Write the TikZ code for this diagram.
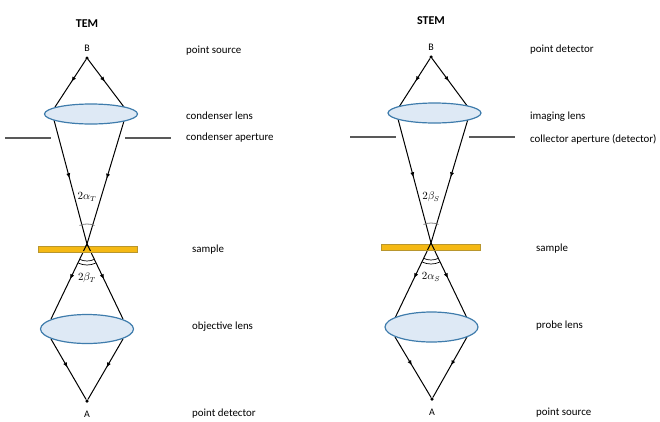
\documentclass[tikz,border=0pt]{standalone}
\usepackage{amsmath, amssymb}
\usepackage{fontspec}
\setmainfont{Carlito}
\usepackage{tikz}
\usetikzlibrary{arrows.meta, decorations.markings, shapes.geometric}

\definecolor{lensfill}{HTML}{DEE9F5}
\definecolor{lensline}{HTML}{3F7CAC}
\definecolor{samplefill}{HTML}{F5B914}
\definecolor{sampleline}{HTML}{B8962E}
\definecolor{stopline}{HTML}{595959}

\begin{document}
\begin{tikzpicture}[
        x=1pt, y=-1pt,
        lens/.style={ellipse, draw=lensline, fill=lensfill, line width=1.2pt, inner sep=0pt, outer sep=0pt, minimum width=93pt},
        sample/.style={rectangle, draw=sampleline, fill=samplefill, line width=0.6pt, inner sep=0pt, outer sep=0pt, minimum width=99pt, minimum height=6pt},
        spot/.style={circle, fill=black, inner sep=0pt, outer sep=0pt, minimum size=3.5pt},
        txt/.style={anchor=west, yshift=-1.2pt, inner sep=0pt, font=\fontsize{10.9}{12}\selectfont, text height=1.5ex, text depth=.25ex},
        letter/.style={inner sep=0pt, font=\fontsize{10}{12}\selectfont},
        heading/.style={inner sep=0pt, font=\fontsize{12}{14}\selectfont\bfseries},
        ang/.style={inner sep=0pt, font=\fontsize{10.5}{12}\selectfont},
        ray/.style={line width=1pt, postaction={decorate}, decoration={markings, mark=at position 0.47 with {\arrow{Latex[length=5pt, width=4.2pt]}}}},
        stop/.style={stopline, line width=1.6pt},
        arcin/.style={line width=0.7pt},
        arcgray/.style={gray, line width=0.8pt}
    ]
        \useasboundingbox (0,0) rectangle (660,421);

        % TEM column
        \node[heading] (TEMtitle) at (87,24) {TEM};
        \node[spot] (TEMB) at (87,58) {};
        \coordinate (TEMcross) at (87,244);
        \node[spot] (TEMA) at (87,401) {};
        \node[letter] (TEMBlabel) at (87,48) {B};
        \node[letter] (TEMAlabel) at (87,414) {A};

        \coordinate (TEMul) at (55,107);
        \coordinate (TEMur) at (124,107);
        \coordinate (TEMml) at (54,120);
        \coordinate (TEMmr) at (124,121);
        \coordinate (TEMol) at (51,319);
        \coordinate (TEMor) at (123,319);
        \coordinate (TEMbl) at (51,339);
        \coordinate (TEMbr) at (123,339);
        \coordinate (TEMsl) at (83.5,251);
        \coordinate (TEMsr) at (90.5,251);
        \draw[ray] (TEMB) -- (TEMul);
        \draw[ray] (TEMB) -- (TEMur);
        \draw[ray] (TEMml) -- (TEMcross);
        \draw[ray] (TEMmr) -- (TEMcross);
        \draw[ray] (TEMcross) -- (TEMol);
        \draw[ray] (TEMcross) -- (TEMor);
        \draw[ray] (TEMbl) -- (TEMA);
        \draw[ray] (TEMbr) -- (TEMA);

        \node[lens, minimum height=20pt] (condlens) at (91,114) {};
        \node[lens, minimum height=29pt] (objlens) at (87,329) {};
        \node[sample] (TEMsample) at (87.5,249) {};
        \draw[line width=1pt] (TEMcross) -- (TEMsl);
        \draw[line width=1pt] (TEMcross) -- (TEMsr);
        \draw[stop] (5,138) -- (51,138);
        \draw[stop] (125,138) -- (171,138);

        \draw[arcgray] ([shift={(-112:20)}]TEMcross) arc (-112:-68:20);
        \draw[arcin] ([shift={(64:17)}]TEMcross) arc (64:116:17);
        \draw[arcin] ([shift={(66:21)}]TEMcross) arc (66:114:21);
        \node[ang] (TEMalpha) at (87,197) {$2\alpha_T$};
        \node[ang] (TEMbeta) at (87,278) {$2\beta_T$};

        \node[txt] (t1) at (186,49) {point source};
        \node[txt] (t2) at (186,115) {condenser lens};
        \node[txt] (t3) at (186,136) {condenser aperture};
        \node[txt] (t4) at (192,248) {sample};
        \node[txt] (t5) at (192,325) {objective lens};
        \node[txt] (t6) at (192,412) {point detector};

        % STEM column
        \node[heading] (STEMtitle) at (431,21) {STEM};
        \node[spot] (STEMB) at (431,57) {};
        \coordinate (STEMcross) at (431,243);
        \node[spot] (STEMA) at (432,399) {};
        \node[letter] (STEMBlabel) at (431,47) {B};
        \node[letter] (STEMAlabel) at (432,412) {A};

        \coordinate (STEMul) at (399,107);
        \coordinate (STEMur) at (468,107);
        \coordinate (STEMml) at (398,119);
        \coordinate (STEMmr) at (468,119);
        \coordinate (STEMol) at (395,318);
        \coordinate (STEMor) at (467,318);
        \coordinate (STEMbl) at (395,337);
        \coordinate (STEMbr) at (467,337);
        \coordinate (STEMsl) at (427.5,250);
        \coordinate (STEMsr) at (434.5,250);
        \draw[ray] (STEMB) -- (STEMul);
        \draw[ray] (STEMB) -- (STEMur);
        \draw[ray] (STEMml) -- (STEMcross);
        \draw[ray] (STEMmr) -- (STEMcross);
        \draw[ray] (STEMcross) -- (STEMol);
        \draw[ray] (STEMcross) -- (STEMor);
        \draw[ray] (STEMbl) -- (STEMA);
        \draw[ray] (STEMbr) -- (STEMA);

        \node[lens, minimum height=20pt] (imglens) at (434.5,113) {};
        \node[lens, minimum height=30pt] (probelens) at (431.5,327) {};
        \node[sample] (STEMsample) at (431,247) {};
        \draw[line width=1pt] (STEMcross) -- (STEMsl);
        \draw[line width=1pt] (STEMcross) -- (STEMsr);
        \draw[stop] (350,137) -- (396,137);
        \draw[stop] (469,137) -- (515,137);

        \draw[arcgray] ([shift={(-112:20)}]STEMcross) arc (-112:-68:20);
        \draw[arcin] ([shift={(64:17)}]STEMcross) arc (64:116:17);
        \draw[arcin] ([shift={(66:21)}]STEMcross) arc (66:114:21);
        \node[ang] (STEMbeta) at (431,197) {$2\beta_S$};
        \node[ang] (STEMalpha) at (431,277) {$2\alpha_S$};

        \node[txt] (s1) at (530,48) {point detector};
        \node[txt] (s2) at (530,115) {imaging lens};
        \node[txt] (s3) at (530,138) {collector aperture (detector)};
        \node[txt] (s4) at (536,247) {sample};
        \node[txt] (s5) at (536,324) {probe lens};
        \node[txt] (s6) at (536,411) {point source};
    \end{tikzpicture}
\end{document}
